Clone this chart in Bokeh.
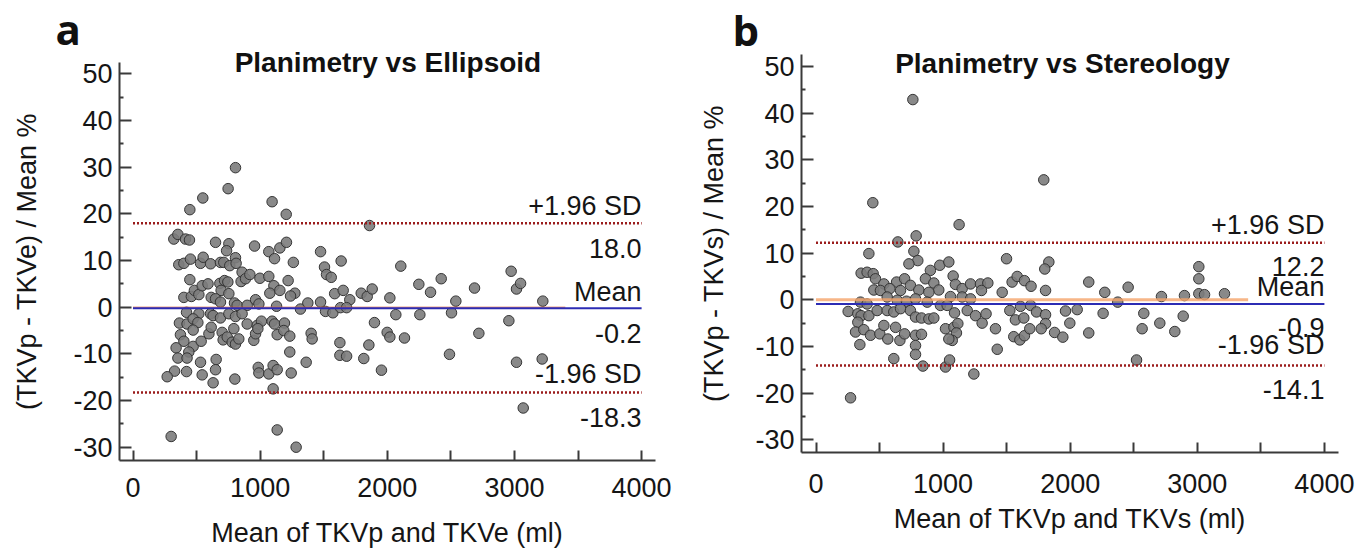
from bokeh.plotting import figure
from bokeh.models import FixedTicker, Label, Range1d
from bokeh.layouts import row
from bokeh.embed import file_html
from bokeh.resources import INLINE
from bokeh.core.properties import value

# ---------------- data ----------------
x_ticks = [0, 1000, 2000, 3000, 4000]
x_minor = [500, 1500, 2500, 3500]
y_ticks = [-30, -20, -10, 0, 10, 20, 30, 40, 50]
y_minor = [-25, -15, -5, 5, 15, 25, 35, 45]
x_tick_labels = ["0", "1000", "2000", "3000", "4000"]
y_tick_labels = ["-30", "-20", "-10", "0", "10", "20", "30", "40", "50"]

a_title = "Planimetry vs Ellipsoid"
a_xlabel = "Mean of TKVp and TKVe (ml)"
a_ylabel = "(TKVp - TKVe) / Mean %"
a_mean, a_upper, a_lower = -0.2, 18.0, -18.3
a_eq_end = 3400
a_x = [806, 748, 549, 447, 1094, 1205, 1860, 321, 353, 413, 444, 649, 754, 736, 956, 1068, 1113, 1155, 1207, 1261,
       1475, 1637, 360, 400, 452, 531, 552, 610, 688, 714, 761, 806, 811, 858, 850, 885, 919, 998, 1068, 1108,
       1220, 1273, 1076, 1155, 1239, 1506, 1522, 1559, 1586, 1653, 1705, 1795, 1842, 1881, 2020, 2106, 447, 400, 459, 483,
       518, 544, 590, 615, 683, 720, 746, 693, 754, 649, 688, 798, 819, 898, 964, 990, 1129, 1317, 1375, 1475,
       1514, 1572, 1632, 1680, 421, 518, 365, 425, 473, 510, 473, 610, 630, 688, 754, 806, 858, 898, 977, 1010,
       1094, 1113, 1134, 1191, 1186, 1233, 1233, 373, 400, 473, 439, 339, 353, 425, 536, 597, 615, 701, 709, 741,
       780, 806, 832, 793, 950, 964, 982, 1401, 1409, 1627, 1627, 1680, 1899, 1999, 2020, 2067, 1855, 1815, 1954, 1362,
       531, 654, 649, 630, 544, 421, 327, 269, 801, 985, 990, 1068, 1102, 1134, 1244, 1102, 300, 1134, 1283, 2135,
       2248, 2256, 2340, 2424, 2489, 2505, 2539, 2686, 2720, 2974, 2956, 3016, 3048, 3016, 3069, 3223, 3218]
a_y = [29.9, 25.4, 23.4, 20.9, 22.6, 19.9, 17.5, 14.6, 15.6, 14.6, 14.4, 13.9, 13.6, 12.1, 13.1, 11.9, 10.4, 12.7, 13.9, 9.6,
       11.9, 9.9, 9.1, 9.4, 10.3, 9.4, 10.7, 9.3, 9.6, 9.6, 8.9, 10.6, 9.4, 7.5, 5.5, 6.1, 7.0, 6.2, 6.6, 4.6,
       5.7, 3.0, 3.0, 3.6, 2.4, 8.6, 7.0, 6.4, 2.9, 3.6, 1.6, 3.0, 2.3, 3.9, 2.0, 8.8, 5.9, 2.1, 2.3, 3.6,
       2.7, 4.6, 5.0, 2.1, 5.1, 5.7, 5.4, 3.6, 2.9, 1.8, 1.1, 0.9, 0.4, 0.4, 1.6, 0.7, 0.2, -0.4, 0.9, 1.1,
       -0.9, -1.2, -0.1, -0.1, -1.1, -1.4, -3.4, -3.6, -2.5, -3.3, -4.9, -1.4, -1.8, -2.3, -1.4, -2.0, -1.4, -3.6, -3.9, -3.0,
       -3.0, -3.6, -5.9, -3.4, -5.0, -6.2, -9.6, -5.9, -7.3, -8.4, -9.6, -8.7, -10.9, -10.9, -7.3, -5.7, -4.3, -5.4, -7.0, -6.4,
       -7.5, -7.9, -6.8, -4.6, -7.1, -5.7, -4.6, -5.6, -6.8, -7.6, -10.3, -10.5, -3.3, -5.4, -6.4, -1.6, -8.1, -11.0, -13.5, -11.8,
       -11.8, -11.2, -13.4, -16.2, -14.5, -13.8, -13.7, -14.9, -15.4, -12.9, -14.1, -14.3, -12.5, -13.4, -14.1, -17.5, -27.7, -26.3, -30.0, -6.6,
       4.9, -1.6, 3.2, 6.1, -10.1, -1.2, 1.3, 4.1, -5.6, 7.7, -2.9, 3.9, 5.1, -11.8, -21.6, 1.3, -11.1]

b_title = "Planimetry vs Stereology"
b_xlabel = "Mean of TKVp and TKVs (ml)"
b_ylabel = "(TKVp - TKVs) / Mean %"
b_mean, b_upper, b_lower = -0.9, 12.2, -14.1
b_eq_end = 3400
b_x = [762, 1792, 447, 1126, 788, 644, 770, 416, 801, 731, 1499, 1832, 1800, 355, 402, 450, 468, 455, 900, 974,
       1045, 1079, 1097, 534, 634, 697, 861, 927, 966, 507, 581, 665, 743, 809, 888, 1150, 1216, 1294, 1352, 1302,
       1465, 1543, 1583, 1640, 1692, 1806, 1058, 1150, 1216, 350, 402, 560, 639, 712, 783, 875, 979, 1032, 1525, 1609,
       1688, 1735, 1806, 1963, 2055, 253, 329, 355, 416, 481, 560, 612, 665, 743, 783, 830, 888, 927, 1090, 1190,
       1255, 1307, 1338, 1569, 1635, 1806, 1997, 329, 311, 376, 429, 502, 534, 565, 626, 660, 697, 783, 830, 1019,
       1085, 1116, 1105, 1072, 1045, 1412, 1556, 1604, 1640, 1682, 1772, 1877, 1942, 345, 612, 783, 783, 841, 1019, 1051,
       1242, 1426, 272, 2146, 2146, 2272, 2259, 2374, 2456, 2579, 2566, 2522, 2718, 2705, 2823, 2889, 2899, 3012, 3012, 3012,
       3057, 3214]
b_y = [42.9, 25.7, 20.8, 16.1, 13.7, 12.4, 10.4, 9.9, 8.4, 7.7, 8.8, 8.1, 6.6, 5.7, 5.9, 5.6, 4.5, 2.1, 6.3, 7.4,
       8.1, 5.1, 3.3, 3.4, 3.8, 4.5, 4.5, 3.6, 2.1, 2.0, 2.4, 2.0, 3.1, 2.1, 1.6, 2.4, 3.4, 3.4, 3.6, 2.0,
       1.6, 3.8, 5.0, 4.1, 2.9, 2.0, 0.7, 0.6, 0.2, -0.5, -0.9, 0.6, -0.1, -0.3, 0.2, -0.5, -1.2, -1.2, -2.3, -1.4,
       -1.2, -2.6, -3.2, -2.4, -2.1, -2.5, -3.0, -3.4, -3.4, -2.3, -2.3, -2.6, -1.9, -2.3, -3.7, -3.9, -4.1, -3.9, -2.8, -2.3,
       -3.4, -5.0, -3.0, -4.3, -3.9, -5.1, -5.0, -4.8, -6.9, -6.4, -7.6, -7.3, -5.5, -8.4, -5.9, -8.7, -7.3, -7.6, -7.4, -6.2,
       -5.9, -5.1, -7.1, -8.7, -8.4, -6.2, -7.9, -8.6, -7.7, -6.2, -6.2, -7.0, -8.0, -9.6, -12.6, -9.8, -11.7, -14.2, -14.4, -12.9,
       -15.9, -10.6, -21.0, 3.8, -7.1, 1.6, -2.9, -0.5, 2.7, -2.9, -6.2, -12.9, 0.7, -5.0, -6.8, -3.5, 0.9, 7.1, 4.5, 1.3,
       1.1, 1.3]

FONT = "Liberation Sans"
TXT = "#151515"
AXC = "#3a3a3a"


def make_panel(letter, title, xlab, ylab, xs, ys, mean, upper, lower, eq_end, g):
    p = figure(width=g["w"], height=553, output_backend="svg", toolbar_location=None,
               x_range=Range1d(*g["xr"]), y_range=Range1d(*g["yr"]),
               min_border=0, min_border_left=0, min_border_right=0,
               min_border_top=0, min_border_bottom=0)
    p.outline_line_color = None
    p.grid.visible = False
    p.background_fill_color = "white"
    p.border_fill_color = "white"

    p.scatter(xs, ys, size=10.5, fill_color="#7c7c7c", fill_alpha=0.9,
              line_color="#353535", line_width=1)

    x0, x1 = x_ticks[0], x_ticks[-1]
    p.line([x0, eq_end], [0, 0], line_color=g["eqc"], line_width=g["eqw"], line_alpha=g["eqa"])
    p.line([x0, x1], [mean, mean], line_color="#2c2cb4", line_width=2)
    for lv in (upper, lower):
        p.line([x0, x1], [lv, lv], line_color="#9a1c1c", line_width=2.5, line_dash="2 2")

    p.text(x=[x1] * 6,
           y=[upper, upper, mean, mean, lower, lower],
           text=["+1.96 SD", f"{upper:.1f}", "Mean", f"{mean:.1f}", "-1.96 SD", f"{lower:.1f}"],
           y_offset=g["toff"],
           text_align="right", text_baseline="middle",
           text_font=value(FONT), text_font_size="27px", text_color=TXT)

    p.add_layout(Label(x=g["title_x"], y=g["title_y"], text=title, text_align="center",
                       text_baseline="middle", text_font=FONT, text_font_size="28px",
                       text_font_style="bold", text_color="#111111"))
    p.add_layout(Label(x=g["let_x"], y=g["let_y"], text=letter, text_align="left",
                       text_baseline="middle", text_font="Open Sans", text_font_size="42px",
                       text_font_style="bold", text_color="#111111"))

    p.xaxis.ticker = FixedTicker(ticks=x_ticks, minor_ticks=x_minor)
    p.xaxis.major_label_overrides = dict(zip(x_ticks, x_tick_labels))
    p.yaxis.ticker = FixedTicker(ticks=y_ticks, minor_ticks=y_minor)
    p.yaxis.major_label_overrides = dict(zip(y_ticks, y_tick_labels))

    for ax in (p.xaxis[0], p.yaxis[0]):
        ax.axis_line_color = AXC
        ax.axis_line_width = 2
        ax.major_tick_line_color = AXC
        ax.minor_tick_line_color = AXC
        ax.major_tick_line_width = 2
        ax.minor_tick_line_width = 2
        ax.major_tick_out = 0
        ax.minor_tick_out = 0
        ax.major_label_text_font = FONT
        ax.major_label_text_font_size = "27px"
        ax.major_label_text_color = TXT
        ax.axis_label_text_font = FONT
        ax.axis_label_text_font_size = "27px"
        ax.axis_label_text_font_style = "normal"
        ax.axis_label_text_color = TXT

    # axes sit at the corner of the plotting area, limited to the axis bounds
    p.xaxis.fixed_location = g["yr_ax"][0]
    p.yaxis.fixed_location = g["xr_ax"][0]
    p.xaxis.bounds = g["xr_ax"]
    p.yaxis.bounds = g["yr_ax"]

    p.xaxis.axis_label = xlab
    p.yaxis.axis_label = ylab
    p.xaxis.major_tick_in = 10
    p.xaxis.minor_tick_in = 10
    p.yaxis.major_tick_in = 12
    p.yaxis.minor_tick_in = 4
    p.xaxis.major_label_standoff = g["xls"]
    p.xaxis.axis_label_standoff = g["xas"]
    p.yaxis.major_label_standoff = 7
    p.yaxis.axis_label_standoff = g["yas"]
    return p


ga = dict(w=680, xr=(-1042.1, 4305.9), yr=(-52.78, 65.72),
          xr_ax=(-106.2, 4109.3), yr_ax=(-32.85, 52.43),
          title_x=2005, title_y=52.35, let_x=-609, let_y=59.65,
          toff=[-17, 25, -16, 25, -19, 25],
          eqc="#e06a3a", eqw=1, eqa=1.0, xls=18, xas=17, yas=28)
gb = dict(w=691, xr=(-1066.1, 4370.6), yr=(-54.36, 64.13),
          xr_ax=(-114.1, 4110.9), yr_ax=(-32.72, 52.56),
          title_x=1939, title_y=50.72, let_x=-657, let_y=57.85,
          toff=[-18, 24, -17, 24, -21, 24],
          eqc="#f5a46a", eqw=3, eqa=0.8, xls=21, xas=8, yas=23)

pa = make_panel("a", a_title, a_xlabel, a_ylabel, a_x, a_y, a_mean, a_upper, a_lower, a_eq_end, ga)
pb = make_panel("b", b_title, b_xlabel, b_ylabel, b_x, b_y, b_mean, b_upper, b_lower, b_eq_end, gb)

layout = row(pa, pb)
open("out.html", "w").write(file_html(layout, INLINE))
